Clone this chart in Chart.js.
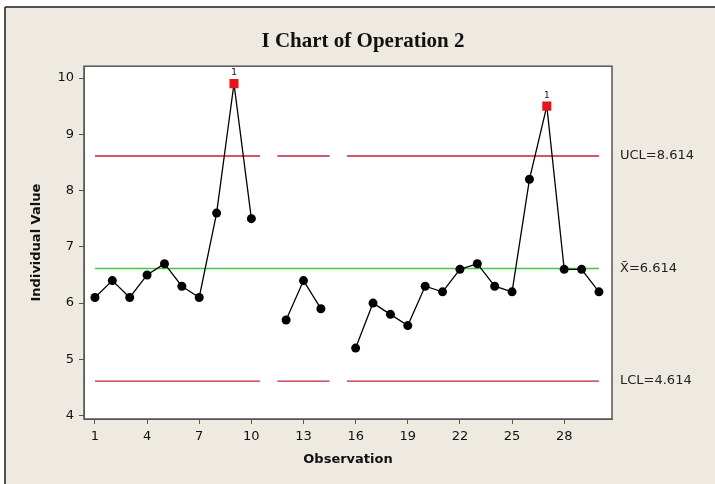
<!DOCTYPE html>
<html><head><meta charset="utf-8">
<script src="https://cdn.jsdelivr.net/npm/chart.js@4/dist/chart.umd.min.js"></script>
<style>html,body{margin:0;padding:0;background:#fff}#wrap{width:715px;height:484px;position:relative}</style>
</head><body><div id="wrap"><canvas id="c" width="715" height="484"></canvas></div>
<script>
// ---- data ----
const observations = [1,2,3,4,5,6,7,8,9,10,11,12,13,14,15,16,17,18,19,20,21,22,23,24,25,26,27,28,29,30];
const individualValues = [6.1,6.4,6.1,6.5,6.7,6.3,6.1,7.6,9.9,7.5,null,5.7,6.4,5.9,null,5.2,6.0,5.8,5.6,6.3,6.2,6.6,6.7,6.3,6.2,8.2,9.5,6.6,6.6,6.2];
const centerLine = 6.614;
const upperLimit = 8.614;
const lowerLimit = 4.614;
const xTickValues = [1,4,7,10,13,16,19,22,25,28];
const yTickValues = [4,5,6,7,8,9,10];
const limitLabels = ['LCL=4.614', 'X\u0304=6.614', 'UCL=8.614'];
const limitValues = [lowerLimit, centerLine, upperLimit];
const flagLabel = '1';

// ---- derived ----
const points = observations.map((o,i)=>({x:o, y:individualValues[i]}));
const flagged = individualValues.map(v => v !== null && (v > upperLimit || v < lowerLimit));
function limitSegments(level){
  const out = []; let start = observations[0];
  observations.forEach((o,i)=>{
    if (individualValues[i] === null){
      out.push({x:start,y:level},{x:o-0.5,y:level},{x:o,y:null});
      start = o+0.5;
    }
  });
  out.push({x:start,y:level},{x:observations[observations.length-1],y:level});
  return out;
}
const centerPts = [{x:observations[0],y:centerLine},{x:observations[observations.length-1],y:centerLine}];

const FONT = 'DejaVu Sans';

const deco = {
  id:'deco',
  beforeDraw(chart){
    const ctx = chart.ctx, a = chart.chartArea;
    ctx.save();
    ctx.fillStyle = '#ffffff'; ctx.fillRect(0,0,chart.width,chart.height);
    ctx.fillStyle = '#EEEAE1'; ctx.fillRect(5,7,chart.width-5,chart.height-7);
    ctx.strokeStyle = '#1c1c1c'; ctx.lineWidth = 1.5;
    ctx.beginPath(); ctx.moveTo(5,7); ctx.lineTo(chart.width,7); ctx.moveTo(5,7); ctx.lineTo(5,chart.height); ctx.stroke();
    ctx.fillStyle = '#ffffff'; ctx.fillRect(a.left,a.top,a.right-a.left,a.bottom-a.top);
    ctx.restore();
  },
  afterDatasetsDraw(chart){
    const ctx = chart.ctx, meta = chart.getDatasetMeta(0);
    ctx.save();
    ctx.fillStyle = '#111'; ctx.font = '9px '+FONT; ctx.textAlign='center'; ctx.textBaseline='bottom';
    flagged.forEach((f,i)=>{ if(f){ const el = meta.data[i]; ctx.fillText(flagLabel, el.x, el.y-6); } });
    ctx.restore();
  },
  afterDraw(chart){
    const ctx = chart.ctx, a = chart.chartArea;
    ctx.save(); ctx.strokeStyle = '#555'; ctx.lineWidth = 1.5;
    ctx.strokeRect(a.left, a.top, a.right-a.left, a.bottom-a.top);
    ctx.restore();
  }
};

new Chart(document.getElementById('c'), {
  type:'line',
  data:{ datasets:[
    { data: points, borderColor:'#000', borderWidth:1.3, spanGaps:false,
      pointStyle: c => flagged[c.dataIndex] ? 'rect' : 'circle',
      pointRadius: c => flagged[c.dataIndex] ? 6.4 : 4.5,
      pointBackgroundColor: c => flagged[c.dataIndex] ? '#E8141C' : '#000',
      pointBorderColor: c => flagged[c.dataIndex] ? '#E8141C' : '#000',
      pointBorderWidth: 0 },
    { data: limitSegments(upperLimit), borderColor:'#C81E3C', borderWidth:1.4, pointRadius:0, spanGaps:false },
    { data: centerPts, borderColor:'#3FCB3F', borderWidth:1.4, pointRadius:0 },
    { data: limitSegments(lowerLimit), borderColor:'#C81E3C', borderWidth:1.4, pointRadius:0, spanGaps:false }
  ]},
  options:{
    responsive:false, animation:false, devicePixelRatio:1,
    layout:{ padding:{left:11, top:0, right:0, bottom:0} },
    plugins:{
      legend:{display:false}, tooltip:{enabled:false},
      title:{ display:true, text:'I Chart of Operation 2', color:'#111',
        font:{family:'Liberation Serif', size:21, weight:'bold'}, padding:{top:29, bottom:12} }
    },
    scales:{
      x:{ type:'linear', min:0.37, max:30.75,
        afterBuildTicks: s => { s.ticks = xTickValues.map(v=>({value:v})); },
        afterFit: s => { s.height = 65; },
        grid:{ drawOnChartArea:false, drawTicks:true, tickLength:5, color:'#555' },
        border:{ display:true, color:'#555' },
        ticks:{ font:{family:FONT, size:13}, color:'#111', padding:5, maxRotation:0, autoSkip:false },
        title:{ display:true, text:'Observation', color:'#111', font:{family:FONT, size:13, weight:'bold'}, padding:{bottom:17} }
      },
      y:{ type:'linear', position:'left', min:3.94, max:10.21,
        afterBuildTicks: s => { s.ticks = yTickValues.map(v=>({value:v})); },
        afterFit: s => { s.width = 73; },
        grid:{ drawOnChartArea:false, drawTicks:true, tickLength:5, color:'#555' },
        border:{ display:true, color:'#555' },
        ticks:{ font:{family:FONT, size:13}, color:'#111', padding:5 },
        title:{ display:true, text:'Individual Value', color:'#111', font:{family:FONT, size:13, weight:'bold'}, padding:{top:18} }
      },
      y2:{ type:'linear', position:'right', min:3.94, max:10.21,
        afterBuildTicks: s => { s.ticks = limitValues.map(v=>({value:v})); },
        afterFit: s => { s.width = 103; },
        grid:{ display:false, drawTicks:false }, border:{ display:false },
        ticks:{ font:{family:FONT, size:13}, color:'#222', padding:8,
          callback: v => { const i = limitValues.indexOf(v); return i>=0 ? limitLabels[i] : ''; } }
      }
    }
  },
  plugins:[deco]
});
</script></body></html>
